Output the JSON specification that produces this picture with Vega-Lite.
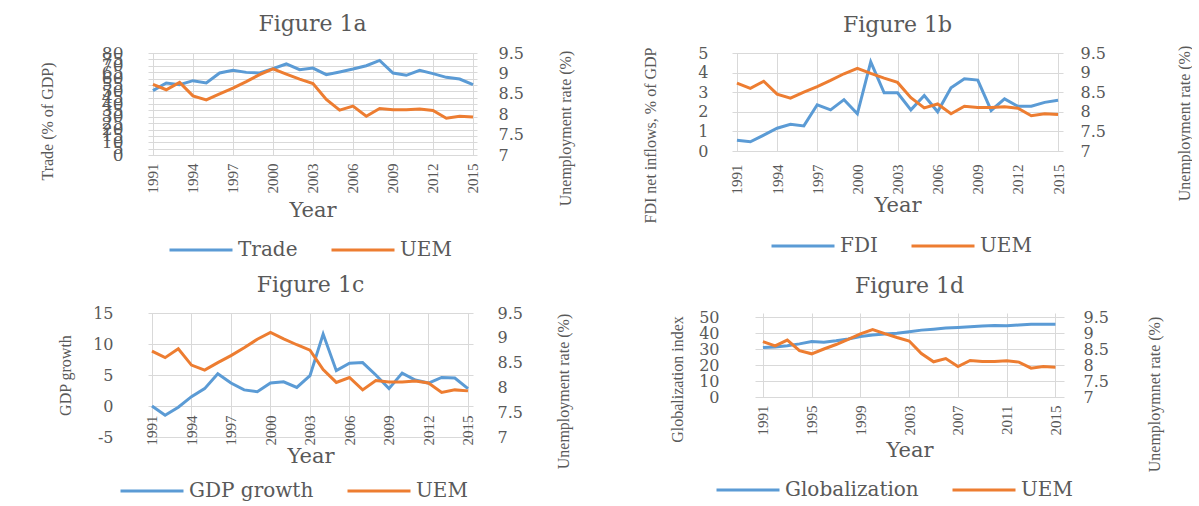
{
  "$schema": "https://vega.github.io/schema/vega-lite/v6.json",
  "autosize": {"type": "pad"},
  "padding": {"left": 39, "top": 13, "right": 0, "bottom": 0},
  "background": "white",
  "datasets": {
    "d": [
      {"Year": 1991, "Trade": 50.5, "FDI": 0.55, "GDP": 0.0, "Glob": 30.9, "UEM": 8.73},
      {"Year": 1992, "Trade": 56.5, "FDI": 0.47, "GDP": -1.5, "Glob": 31.3, "UEM": 8.60},
      {"Year": 1993, "Trade": 55.2, "FDI": 0.81, "GDP": -0.2, "Glob": 32.1, "UEM": 8.78},
      {"Year": 1994, "Trade": 58.3, "FDI": 1.16, "GDP": 1.5, "Glob": 33.2, "UEM": 8.45},
      {"Year": 1995, "Trade": 56.5, "FDI": 1.36, "GDP": 2.8, "Glob": 34.7, "UEM": 8.35},
      {"Year": 1996, "Trade": 64.3, "FDI": 1.28, "GDP": 5.2, "Glob": 34.2, "UEM": 8.50},
      {"Year": 1997, "Trade": 66.4, "FDI": 2.36, "GDP": 3.7, "Glob": 35.1, "UEM": 8.64},
      {"Year": 1998, "Trade": 64.8, "FDI": 2.10, "GDP": 2.6, "Glob": 36.3, "UEM": 8.80},
      {"Year": 1999, "Trade": 64.3, "FDI": 2.62, "GDP": 2.3, "Glob": 37.8, "UEM": 8.97},
      {"Year": 2000, "Trade": 67.7, "FDI": 1.90, "GDP": 3.7, "Glob": 38.7, "UEM": 9.11},
      {"Year": 2001, "Trade": 71.4, "FDI": 4.55, "GDP": 3.9, "Glob": 39.3, "UEM": 8.98},
      {"Year": 2002, "Trade": 66.9, "FDI": 2.97, "GDP": 3.0, "Glob": 39.9, "UEM": 8.86},
      {"Year": 2003, "Trade": 68.2, "FDI": 2.97, "GDP": 4.9, "Glob": 40.8, "UEM": 8.75},
      {"Year": 2004, "Trade": 63.0, "FDI": 2.10, "GDP": 11.6, "Glob": 41.8, "UEM": 8.36},
      {"Year": 2005, "Trade": 65.1, "FDI": 2.83, "GDP": 5.7, "Glob": 42.4, "UEM": 8.10},
      {"Year": 2006, "Trade": 67.4, "FDI": 2.00, "GDP": 6.9, "Glob": 43.1, "UEM": 8.20},
      {"Year": 2007, "Trade": 70.0, "FDI": 3.22, "GDP": 7.0, "Glob": 43.5, "UEM": 7.95},
      {"Year": 2008, "Trade": 74.2, "FDI": 3.69, "GDP": 5.0, "Glob": 43.9, "UEM": 8.14},
      {"Year": 2009, "Trade": 64.3, "FDI": 3.62, "GDP": 2.8, "Glob": 44.3, "UEM": 8.11},
      {"Year": 2010, "Trade": 62.5, "FDI": 2.07, "GDP": 5.3, "Glob": 44.7, "UEM": 8.11},
      {"Year": 2011, "Trade": 66.4, "FDI": 2.66, "GDP": 4.2, "Glob": 44.5, "UEM": 8.13},
      {"Year": 2012, "Trade": 63.8, "FDI": 2.28, "GDP": 3.7, "Glob": 45.0, "UEM": 8.09},
      {"Year": 2013, "Trade": 60.9, "FDI": 2.28, "GDP": 4.6, "Glob": 45.4, "UEM": 7.90},
      {"Year": 2014, "Trade": 59.6, "FDI": 2.48, "GDP": 4.5, "Glob": 45.4, "UEM": 7.95},
      {"Year": 2015, "Trade": 55.2, "FDI": 2.59, "GDP": 2.8, "Glob": 45.4, "UEM": 7.93}
    ]
  },
  "vconcat": [
    {
      "hconcat": [
        {
          "data": {"name": "d"},
          "width": 329, "height": 102,
          "title": {"text": "Figure 1a"},
          "encoding": {
            "x": {"field": "Year", "type": "quantitative", "scale": {"domain": [1990.63, 2015.3], "nice": false, "zero": false},
              "axis": {"values": [1991, 1994, 1997, 2000, 2003, 2006, 2009, 2012, 2015], "format": "d", "labelAngle": -90, "labelPadding": 8, "title": "Year", "titlePadding": 6}}
          },
          "layer": [
            {"mark": {"type": "line", "strokeWidth": 3},
              "encoding": {
                "y": {"field": "Trade", "type": "quantitative", "scale": {"domain": [0, 80], "nice": false},
                  "axis": {"values": [0,5,10,15,20,25,30,35,40,45,50,55,60,65,70,75,80], "labelOverlap": false, "labelFontSize": 17, "labelPadding": 25, "grid": true, "title": "Trade (% of GDP)", "titleX": -101, "titleY": 68}},
                "color": {"datum": "Trade", "scale": {"domain": ["Trade", "UEM"], "range": ["#5B9BD5", "#ED7D31"]},
                  "legend": {"title": null, "orient": "none", "legendX": 20, "legendY": 164}}
              }},
            {"mark": {"type": "line", "strokeWidth": 3},
              "encoding": {
                "y": {"field": "UEM", "type": "quantitative", "scale": {"domain": [7, 9.5], "nice": false, "zero": false},
                  "axis": {"orient": "right", "values": [7, 7.5, 8, 8.5, 9, 9.5], "format": "~g", "labelPadding": 21, "grid": false, "title": "Unemployment rate (%)", "titleAngle": -90, "titleX": 88, "titleY": 75}},
                "color": {"datum": "UEM"}
              }}
          ],
          "resolve": {"scale": {"y": "independent"}}
        },
        {
          "data": {"name": "d"},
          "width": 331, "height": 98,
          "title": {"text": "Figure 1b"},
          "encoding": {
            "x": {"field": "Year", "type": "quantitative", "scale": {"domain": [1990.63, 2015.37], "nice": false, "zero": false},
              "axis": {"values": [1991, 1994, 1997, 2000, 2003, 2006, 2009, 2012, 2015], "format": "d", "labelAngle": -90, "labelPadding": 13, "title": "Year", "titlePadding": 0}}
          },
          "layer": [
            {"mark": {"type": "line", "strokeWidth": 3},
              "encoding": {
                "y": {"field": "FDI", "type": "quantitative", "scale": {"domain": [0, 5], "nice": false},
                  "axis": {"values": [0,1,2,3,4,5], "labelPadding": 24, "grid": true, "title": "FDI net inflows, % of GDP", "titleX": -82, "titleY": 82}},
                "color": {"datum": "FDI", "scale": {"domain": ["FDI", "UEM"], "range": ["#5B9BD5", "#ED7D31"]},
                  "legend": {"title": null, "orient": "none", "legendX": 38, "legendY": 160}}
              }},
            {"mark": {"type": "line", "strokeWidth": 3},
              "encoding": {
                "y": {"field": "UEM", "type": "quantitative", "scale": {"domain": [7, 9.5], "nice": false, "zero": false},
                  "axis": {"orient": "right", "values": [7, 7.5, 8, 8.5, 9, 9.5], "format": "~g", "labelPadding": 17, "grid": false, "title": "Unemployment rate (%)", "titleAngle": -90, "titleX": 121, "titleY": 70}},
                "color": {"datum": "UEM"}
              }}
          ],
          "resolve": {"scale": {"y": "independent"}}
        }
      ],
      "spacing": 255,
      "bounds": "flush",
      "resolve": {"scale": {"color": "independent"}}
    },
    {
      "hconcat": [
        {
          "data": {"name": "d"},
          "width": 325, "height": 124,
          "title": {"text": "Figure 1c"},
          "encoding": {
            "x": {"field": "Year", "type": "quantitative", "scale": {"domain": [1990.7, 2015.38], "nice": false, "zero": false},
              "axis": {"values": [1991, 1994, 1997, 2000, 2003, 2006, 2009, 2012, 2015], "format": "d", "labelAngle": -90, "labelPadding": 9, "offset": -31, "title": "Year", "titlePadding": 0}}
          },
          "layer": [
            {"mark": {"type": "line", "strokeWidth": 3},
              "encoding": {
                "y": {"field": "GDP", "type": "quantitative", "scale": {"domain": [-5, 15], "nice": false, "zero": false},
                  "axis": {"values": [-5, 0, 5, 10, 15], "labelExpr": "replace(datum.label, '\u2212', '-')", "labelPadding": 35, "grid": true, "title": "GDP growth", "titleX": -83, "titleY": 62}},
                "color": {"datum": "GDP growth", "scale": {"domain": ["GDP growth", "UEM"], "range": ["#5B9BD5", "#ED7D31"]},
                  "legend": {"title": null, "orient": "none", "legendX": -29, "legendY": 145}}
              }},
            {"mark": {"type": "line", "strokeWidth": 3},
              "encoding": {
                "y": {"field": "UEM", "type": "quantitative", "scale": {"domain": [7, 9.5], "nice": false, "zero": false},
                  "axis": {"orient": "right", "values": [7, 7.5, 8, 8.5, 9, 9.5], "format": "~g", "labelPadding": 24, "grid": false, "title": "Unemployment rate (%)", "titleAngle": -90, "titleX": 90, "titleY": 78}},
                "color": {"datum": "UEM"}
              }}
          ],
          "resolve": {"scale": {"y": "independent"}}
        },
        {
          "data": {"name": "d"},
          "width": 309, "height": 84,
          "title": {"text": "Figure 1d", "offset": 11},
          "encoding": {
            "x": {"field": "Year", "type": "quantitative", "scale": {"domain": [1990.35, 2015.7], "nice": false, "zero": false},
              "axis": {"values": [1991, 1995, 1999, 2003, 2007, 2011, 2015], "format": "d", "labelAngle": -90, "labelPadding": 8, "title": "Year", "titlePadding": 4}}
          },
          "layer": [
            {"mark": {"type": "line", "strokeWidth": 3},
              "encoding": {
                "y": {"field": "Glob", "type": "quantitative", "scale": {"domain": [0, 52.5], "nice": false},
                  "axis": {"values": [0, 10, 20, 30, 40, 50], "labelPadding": 36, "grid": true, "title": "Globalization index", "titleX": -78, "titleY": 66}},
                "color": {"datum": "Globalization", "scale": {"domain": ["Globalization", "UEM"], "range": ["#5B9BD5", "#ED7D31"]},
                  "legend": {"title": null, "orient": "none", "legendX": -40, "legendY": 144}}
              }},
            {"mark": {"type": "line", "strokeWidth": 3},
              "encoding": {
                "y": {"field": "UEM", "type": "quantitative", "scale": {"domain": [7, 9.625], "nice": false, "zero": false},
                  "axis": {"orient": "right", "values": [7, 7.5, 8, 8.5, 9, 9.5], "format": "~g", "labelPadding": 19, "grid": false, "title": "Unemploymnet rate (%)", "titleAngle": -90, "titleX": 90, "titleY": 81}},
                "color": {"datum": "UEM"}
              }}
          ],
          "resolve": {"scale": {"y": "independent"}}
        }
      ],
      "spacing": 282,
      "bounds": "flush",
      "resolve": {"scale": {"color": "independent"}}
    }
  ],
  "spacing": 260,
  "bounds": "flush",
  "resolve": {"scale": {"color": "independent"}},
  "config": {
    "view": {"stroke": null},
    "title": {"font": "DejaVu Serif", "fontSize": 22, "fontWeight": "normal", "color": "#595959", "anchor": "middle", "offset": 8},
    "axis": {"domain": false, "ticks": false, "labelColor": "#595959", "titleColor": "#595959", "titleFontWeight": "normal", "gridColor": "#D9D9D9", "labelFont": "DejaVu Serif", "labelFontSize": 16, "titleFont": "Liberation Serif", "titleFontSize": 16, "labelFlush": false, "labelOverlap": false},
    "axisX": {"labelFont": "Liberation Serif", "labelFontSize": 15, "titleFont": "DejaVu Serif", "titleFontSize": 21, "titleBaseline": "top"},
    "axisY": {"titleBaseline": "middle"},
    "legend": {"symbolType": "stroke", "symbolSize": 3969, "symbolStrokeWidth": 3, "labelFont": "DejaVu Serif", "labelFontSize": 20, "labelColor": "#595959", "columnPadding": 27, "labelOffset": 4, "direction": "horizontal"},
    "line": {"strokeWidth": 3}
  }
}
